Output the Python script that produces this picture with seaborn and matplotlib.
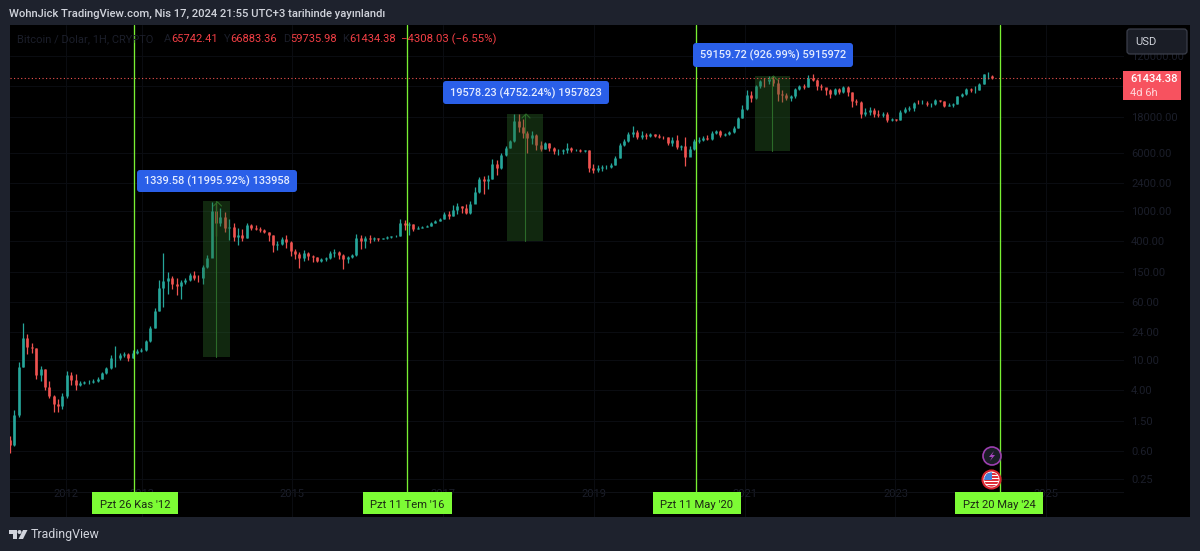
import numpy as np
import pandas as pd
import seaborn as sns
import matplotlib
matplotlib.use("Agg")
import matplotlib.pyplot as plt
import matplotlib.dates as mdates
from matplotlib.patches import FancyBboxPatch, Rectangle, Circle, Polygon
from matplotlib.ticker import FixedLocator, FixedFormatter

first_open = 0.85
closes = [0.72,1.8,8,20,15,14.5,6.2,7.5,4.4,3.3,2.6,2.4,3.3,6.2,5.4,4.6,4.9,5.0,5.1,5.2,5.6,6.6,7.7,10.5,10.5,11.5,12,10.8,12.5,13.4,
13.5,18,27,45,92,115,125,105,100,110,120,140,128,125,175,235,1000,680,830,600,610,450,480,440,640,600,580,560,520,470,
345,360,420,380,290,265,235,275,250,240,215,225,235,270,285,260,230,240,260,430,390,440,420,430,420,430,450,455,460,680,
650,660,580,600,610,630,700,740,780,900,870,1030,1150,1100,950,1250,1800,2650,2500,2700,4300,3800,5700,7100,8800,16000,13500,11000,9500,10500,
7600,6800,8300,7000,6300,6300,6600,7000,6500,6500,6400,6500,3800,3500,3800,3900,3900,4200,5200,7800,8800,10800,11500,10000,10400,10300,10900,10300,10000,9700,
8300,9100,7300,7500,5300,6800,8800,9000,9500,9300,11000,11900,10400,10700,11500,13100,17500,23500,36000,33000,47000,56000,55000,59000,52000,37000,36000,33000,35000,44000,
47000,46000,61000,57000,47000,46500,41500,37000,43000,39000,46000,39000,30000,29000,20000,21000,23000,20000,19500,20000,16500,17000,16900,21000,23500,24000,28500,28000,28500,27000,
27000,30500,29500,26000,26500,27500,34500,37000,43000,42000,42500,51000,68000,70000,61434]
highs = [0.95,2.1,9.5,31,22,17,14.5,8.3,7.6,5.2,3.4,3.0,3.6,7.1,7.0,6.4,5.3,5.3,5.4,5.5,5.9,6.9,8.1,11.6,15.4,12.4,12.8,12.3,13.5,14,
14.3,18.8,29,50,118,270,150,135,125,118,125,145,155,140,190,260,1320,1300,1100,980,780,700,600,580,680,660,640,610,570,530,
480,400,450,480,390,310,285,300,285,255,245,235,240,290,310,290,265,250,265,490,470,465,470,445,440,440,460,465,470,780,
760,710,670,620,630,650,720,760,800,960,1000,1200,1280,1180,1230,1380,2100,2900,2950,3000,4950,4900,6000,7400,9000,19800,19800,17000,11800,11700,
10800,8800,8500,8200,7300,6700,6900,8200,7300,6900,6700,6600,6600,4300,4200,4100,4200,4400,5500,8300,9200,11500,13800,12200,12000,11000,11100,10900,10800,10300,
9800,9800,10500,7800,10000,7500,9400,10000,10200,10400,12000,12400,12100,11200,12000,13800,18000,26500,42000,41000,49000,58000,61000,64000,64500,59000,42000,38500,36000,45000,
49000,51000,67500,69000,59000,51000,44000,43000,45000,45000,48000,47000,40000,32000,30000,24000,25000,24500,22500,21000,21000,17500,17400,23000,25000,25500,29000,30500,31000,30000,
28500,31500,31000,30000,28000,28000,35500,38000,44500,44500,47000,52000,69000,73500,66883]
lows = [0.57,0.7,1.7,8,12,12.5,5.6,5.2,4.0,3.1,2.0,2.0,2.2,3.1,4.6,4.0,4.5,4.7,4.8,4.9,5.1,5.5,6.5,7.5,8,10,11,9.6,10.5,12,
13,13.2,17.5,27,45,52,78,90,75,65,105,115,118,110,105,170,240,460,620,530,410,400,350,390,430,560,550,530,500,400,
280,300,350,320,250,230,170,215,220,205,205,205,215,230,245,230,165,200,235,250,310,320,370,395,400,415,420,430,445,455,
550,480,540,570,595,605,620,700,730,770,790,860,900,950,920,900,1270,1750,1700,1950,2650,3000,3700,5500,7000,8500,11500,9500,6000,8000,
6500,6300,6700,6300,5800,5700,5900,6000,6100,6300,6250,6200,3300,3200,3300,3400,3700,3800,4100,5100,7500,8500,10000,9400,9400,9400,9800,9700,9500,9400,
7700,7500,6700,6500,4000,5500,6600,8100,8700,8900,9100,10900,9900,10200,10400,11300,13000,17500,23000,29000,32000,45000,46000,50000,47000,30000,29000,31000,30000,33000,
42000,43000,46000,55000,42000,42000,36000,33000,36000,37500,38000,35500,25000,26500,17600,19000,19500,18500,18200,18500,15500,16000,16300,16500,20500,22000,22000,27000,27000,25500,
25000,26500,28800,25000,25500,25000,27000,33500,36500,40000,38500,41500,50000,60000,59735]
candle_start = "2011-04-04"
candle_step_hours = 510

halving_dates = ["2012-11-26", "2016-07-11", "2020-05-11", "2024-05-20"]
halving_labels = ["Pzt 26 Kas '12", "Pzt 11 Tem '16", "Pzt 11 May '20", "Pzt 20 May '24"]
box_starts = ["2013-10-25", "2017-11-07", "2021-02-20"]
box_ends = ["2014-03-05", "2018-05-01", "2021-08-07"]
box_tops = [1350, 19800, 65000]
box_bottoms = [11, 400, 6400]
box_texts = ["1339.58 (11995.92%) 133958", "19578.23 (4752.24%) 1957823", "59159.72 (926.99%) 5915972"]
price_ticks = [120000, 48000, 18000, 6000, 2400, 1000, 400, 150, 60, 24, 10, 4, 1.5, 0.6, 0.25]
year_ticks = [2012, 2013, 2015, 2017, 2019, 2021, 2023, 2025]
last_price = 61434.38

n = min(len(closes), len(highs), len(lows))
closes, highs, lows = closes[:n], highs[:n], lows[:n]
dates = pd.date_range(candle_start, periods=n, freq=f"{candle_step_hours}h")
opens = [first_open] + closes[:-1]
opens[-1] = 65742.41
rows_w, rows_b = [], []
for i in range(n):
    d = "up" if closes[i] >= opens[i] else "down"
    rows_w += [(i, dates[i], lows[i], d), (i, dates[i], highs[i], d)]
    rows_b += [(i, dates[i], opens[i], d), (i, dates[i], closes[i], d)]
cols = ["candle", "date", "price", "dir"]
wicks = pd.DataFrame(rows_w, columns=cols)
bodies = pd.DataFrame(rows_b, columns=cols)

W, H = 1200, 551
BG = "#1e222d"
sns.set_theme(style="dark", rc={"axes.grid": False})
plt.rcParams["font.family"] = ["Roboto", "DejaVu Sans"]
fig = plt.figure(figsize=(W / 100, H / 100), dpi=100, facecolor=BG)

def rect(l, t, r, b):
    return [l / W, 1 - b / H, (r - l) / W, (b - t) / H]

back = fig.add_axes(rect(10, 25, 1190, 517), facecolor="black", zorder=0)
back.set_xticks([]); back.set_yticks([])
for s in back.spines.values():
    s.set_visible(False)

ax = fig.add_axes(rect(10, 25, 1124, 517), facecolor="none", zorder=1)
ax.set_yscale("log")
PAL = {"up": "#26a69a", "down": "#ef5350"}
sns.lineplot(data=wicks, x="date", y="price", units="candle", hue="dir", palette=PAL, estimator=None,
             sort=False, linewidth=0.9, legend=False, ax=ax, solid_capstyle="butt")
sns.lineplot(data=bodies, x="date", y="price", units="candle", hue="dir", palette=PAL, estimator=None,
             sort=False, linewidth=1.9, legend=False, ax=ax, solid_capstyle="butt")
ax.set_xlabel(""); ax.set_ylabel("")

def year_num(y):
    return mdates.date2num(pd.Timestamp(f"{y}-01-01"))

t0 = year_num(2012) + (10 - 66.0) / 75.4 * 365.25
t1 = year_num(2012) + (1124 - 66.0) / 75.4 * 365.25
ax.set_xlim(t0, t1)
ax.set_ylim(10 ** (1 - (517 - 360) / 74.5), 10 ** (1 + (360 - 25) / 74.5))

FAINT = "#1b1e2a"
ax.yaxis.tick_right()
ax.yaxis.set_major_locator(FixedLocator(price_ticks))
ax.yaxis.set_major_formatter(FixedFormatter([f"{p:.2f}" for p in price_ticks]))
ax.yaxis.set_minor_locator(FixedLocator([]))
ax.xaxis.set_major_locator(FixedLocator([year_num(y) for y in year_ticks]))
ax.xaxis.set_major_formatter(FixedFormatter([str(y) for y in year_ticks]))
ax.tick_params(axis="y", length=0, pad=5, labelsize=8.0, labelcolor=FAINT)
ax.tick_params(axis="x", length=0, pad=-20, labelsize=8.0, labelcolor=FAINT)
ax.grid(True, color="#0b0d12", linewidth=0.7)
ax.set_axisbelow(True)
for s in ax.spines.values():
    s.set_visible(False)

GREEN = "#7dfc35"
axis_frac = (517 - 492) / (517 - 25)
for d in halving_dates:
    ax.axvline(pd.Timestamp(d), ymin=axis_frac, ymax=1, color="#78f032", linewidth=0.95, zorder=5)
ax.axhline(last_price, color="#ef5350", linewidth=0.8, linestyle=(0, (1, 2.2)), zorder=4)
ax.axhline(10 ** (1 - (492 - 360) / 74.5), color="#0f1116", linewidth=0.7)

for s, e, top, bot in zip(box_starts, box_ends, box_tops, box_bottoms):
    a, b = mdates.date2num(pd.Timestamp(s)), mdates.date2num(pd.Timestamp(e))
    ax.add_patch(Rectangle((a, bot), b - a, top - bot, facecolor="#2e6b2a", alpha=0.38, edgecolor="none", zorder=3))
    ax.plot([(a + b) / 2] * 2, [bot, top], color="#2b6a28", linewidth=0.8, zorder=3.5)

# overlay in pixel coordinates
ov = fig.add_axes([0, 0, 1, 1], facecolor="none", zorder=5)
ov.set_xlim(0, W); ov.set_ylim(H, 0); ov.axis("off")

def txt(x, y, s, color, size=8.0, ha="left", weight="normal", **kw):
    ov.text(x, y, s, color=color, fontsize=size, ha=ha, va="center", fontweight=weight, **kw)

def rbox(l, t, r, b, fc, ec="none", rad=2, lw=0.8):
    ov.add_patch(FancyBboxPatch((l + rad, t + rad), r - l - 2 * rad, b - t - 2 * rad,
                                boxstyle=f"round,pad={rad},rounding_size={rad}", fc=fc, ec=ec, lw=lw))

txt(9, 13.5, "WohnJick TradingView.com, Nis 17, 2024 21:55 UTC+3 tarihinde yayınlandı", "#d1d4dc", size=8.12, weight="medium")
txt(17, 39.5, "Bitcoin / Dolar, 1H, CRYPTO", FAINT)
for x, lab in zip([164, 224, 283, 342], "AYDK"):
    txt(x, 39.5, lab, FAINT)
RED = "#f23f45"
for x, v in zip([171, 230, 290, 349], ["65742.41", "66883.36", "59735.98", "61434.38"]):
    txt(x, 39.5, v, RED)
txt(401, 39.5, "\u22124308.03 (\u22126.55%)", RED, size=8.2)

# blue measurement labels
for (l, t, r, b), s in zip([(137, 170, 297, 192), (443, 81, 609, 104), (693, 43, 853, 67)], box_texts):
    rbox(l, t, r, b, "#2a5fe8", rad=3)
    txt((l + r) / 2, (t + b) / 2 + 0.5, s, "#e3ebff", size=7.9, ha="center", weight="medium")

# chevrons over the boxes
for cx, ty in zip([217.5, 526, 773.5], [202, 114, 76]):
    ov.plot([cx - 4, cx, cx + 4], [ty + 4, ty, ty + 4], color="#2b6a28", lw=0.8)

# date labels
for (l, r), s in zip([(92, 178), (363, 452), (653, 741), (955, 1043)], halving_labels):
    ov.add_patch(Rectangle((l, 492), r - l, 22, fc=GREEN, ec="none"))
    txt((l + r) / 2, 505, s, "#1c2a14", size=8.1, ha="center")

# USD button and price label
rbox(1127, 29, 1187, 54, "#1a1d26", ec="#3a3e4a", rad=3, lw=0.9)
txt(1135, 42, "USD", "#d1d4dc")
ov.add_patch(Rectangle((1123, 71), 58, 29, fc="#f7525f", ec="none"))
txt(1130, 79, "61434.38", "white", weight="medium")
txt(1130, 92.5, "4d 6h", "#ffd9dc")

# event icons
ov.add_patch(Circle((992, 456), 9, fc="#1a1d26", ec="#9c3fb0", lw=1.2))
ov.add_patch(Polygon([(994, 451), (989, 457), (992, 457), (990, 461), (995, 455), (992, 455)], fc="#a845c0", ec="none"))
ov.add_patch(Circle((991.5, 479.5), 9, fc="white", ec="#d8232f", lw=1.5))
flag = Circle((991.5, 479.5), 7.2, transform=ov.transData)
for k, yy in enumerate([473, 476, 479, 482, 485]):
    b_ = ov.add_patch(Rectangle((983, yy), 18, 1.6, fc="#e0303a", ec="none"))
    b_.set_clip_path(flag)
canton = ov.add_patch(Rectangle((984, 472), 8, 8, fc="#3f7fd8", ec="none"))
canton.set_clip_path(flag)

# footer logo
LOGO = "#d1d4dc"
ov.add_patch(Polygon([(9, 530), (17, 530), (17, 539), (13, 539), (13, 534), (9, 534)], fc=LOGO, ec="none"))
ov.add_patch(Circle((19.5, 532), 2, fc=LOGO, ec="none"))
ov.add_patch(Polygon([(23, 530), (27.5, 530), (23, 539), (18.5, 539)], fc=LOGO, ec="none"))
txt(31, 534.5, "TradingView", LOGO, size=8.9)

fig.savefig("out.png", dpi=100, facecolor=BG)
